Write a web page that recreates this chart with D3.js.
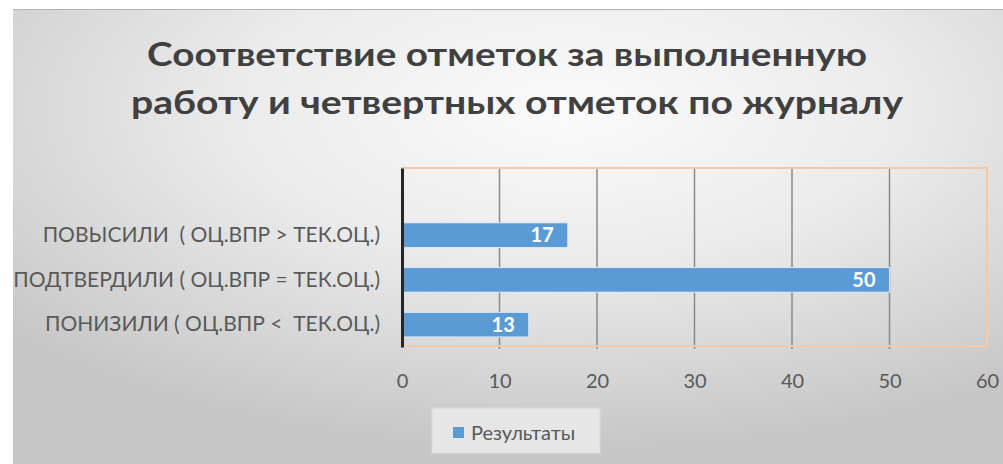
<!DOCTYPE html>
<html>
<head>
<meta charset="utf-8">
<script src="https://cdn.jsdelivr.net/npm/d3@7"></script>
<style>
    html, body { margin: 0; padding: 0; background: #fff; }
    svg { display: block; }
    text { font-family: Lato, "Noto Sans", sans-serif; white-space: pre; }
</style>
</head>
<body>
<svg id="chart"></svg>
<script>
const titleLines = ['Соответствие отметок за выполненную', 'работу и четвертных отметок по журналу'];
const categories = ['', 'ПОВЫСИЛИ  ( ОЦ.ВПР > ТЕК.ОЦ.)', 'ПОДТВЕРДИЛИ ( ОЦ.ВПР = ТЕК.ОЦ.)', 'ПОНИЗИЛИ ( ОЦ.ВПР <  ТЕК.ОЦ.)'];
const values = [null, 17, 50, 13];
const xTicks = [0, 10, 20, 30, 40, 50, 60];
const seriesName = 'Результаты';

(function () {
    const width = 1003, height = 464;
    const barColor = '#5b9bd5';

    const svg = d3.select('#chart')
        .attr('width', width)
        .attr('height', height);

    const defs = svg.append('defs');
    const grad = defs.append('radialGradient')
        .attr('id', 'bg')
        .attr('cx', '0.56').attr('cy', '0.22').attr('r', '0.75');
    grad.append('stop').attr('offset', '0').attr('stop-color', '#fbfbfb');
    grad.append('stop').attr('offset', '0.45').attr('stop-color', '#ebebeb');
    grad.append('stop').attr('offset', '1').attr('stop-color', '#c6c6c6');

    // chart area background
    svg.append('rect')
        .attr('x', 13).attr('y', 9)
        .attr('width', width - 13).attr('height', height - 9)
        .attr('fill', 'url(#bg)');
    svg.append('line')
        .attr('x1', 13).attr('x2', width)
        .attr('y1', 9.5).attr('y2', 9.5)
        .attr('stroke', '#b5b5b5').attr('stroke-width', 1);

    // title, stretched to the widths seen in the picture
    const titleSpan = [[147, 867], [131, 903]];
    svg.append('g').selectAll('text')
        .data(titleLines)
        .enter()
        .append('text')
        .attr('x', (d, i) => titleSpan[i][0])
        .attr('y', (d, i) => 66 + i * 48)
        .attr('textLength', (d, i) => titleSpan[i][1] - titleSpan[i][0])
        .attr('lengthAdjust', 'spacingAndGlyphs')
        .style('font-size', '33px')
        .style('font-weight', 'bold')
        .style('fill', '#404040')
        .text(d => d);

    const x = d3.scaleLinear()
        .domain([xTicks[0], xTicks[xTicks.length - 1]])
        .range([402, 987]);

    const y = d3.scaleBand()
        .domain(categories)
        .range([168, 347])
        .paddingInner(0.45)
        .paddingOuter(0.225);

    // gridlines
    svg.append('g')
        .selectAll('line')
        .data(xTicks.slice(1, -1))
        .enter()
        .append('line')
        .attr('x1', d => x(d)).attr('x2', d => x(d))
        .attr('y1', 168).attr('y2', 349)
        .attr('stroke', '#8a8a8a')
        .attr('stroke-width', 1.5);

    // plot area border
    svg.append('rect')
        .attr('x', x(0)).attr('y', 168)
        .attr('width', x(60) - x(0)).attr('height', 178)
        .attr('fill', 'none')
        .attr('stroke', '#f6c9a6')
        .attr('stroke-width', 2);

    // bars
    const rows = categories.map((c, i) => ({ cat: c, val: values[i] })).filter(d => d.val != null);

    svg.append('g')
        .selectAll('rect')
        .data(rows)
        .enter()
        .append('rect')
        .attr('x', x(0))
        .attr('y', d => y(d.cat))
        .attr('width', d => x(d.val) - x(0))
        .attr('height', y.bandwidth())
        .attr('fill', barColor)
        .attr('stroke', '#dbe9f6')
        .attr('stroke-width', 1);

    // data labels
    svg.append('g')
        .selectAll('text')
        .data(rows)
        .enter()
        .append('text')
        .attr('x', d => x(d.val) - 14)
        .attr('y', d => y(d.cat) + y.bandwidth() / 2)
        .attr('dy', '0.36em')
        .attr('text-anchor', 'end')
        .style('font-size', '20px')
        .style('font-weight', 'bold')
        .style('fill', '#ffffff')
        .text(d => d.val);

    // category axis
    const yAxis = svg.append('g')
        .attr('transform', `translate(${x(0)},0)`)
        .call(d3.axisLeft(y).tickSize(0).tickPadding(22));
    yAxis.select('.domain')
        .attr('stroke', '#262626')
        .attr('stroke-width', 3);
    yAxis.selectAll('text')
        .style('font-size', '21px')
        .style('font-family', 'Lato, "Noto Sans", sans-serif')
        .style('fill', '#595959');

    // value axis labels
    const xAxis = svg.append('g')
        .attr('transform', 'translate(0,346)')
        .call(d3.axisBottom(x).tickValues(xTicks).tickSize(0).tickPadding(28));
    xAxis.select('.domain').remove();
    xAxis.selectAll('text')
        .style('font-size', '20px')
        .style('font-family', 'Lato, "Noto Sans", sans-serif')
        .style('fill', '#595959');

    // legend
    const legend = svg.append('g');
    legend.append('rect')
        .attr('x', 432).attr('y', 408)
        .attr('width', 168).attr('height', 45)
        .attr('fill', '#e6e6e6')
        .attr('stroke', '#dadada')
        .attr('stroke-width', 1);
    legend.append('rect')
        .attr('x', 453).attr('y', 427)
        .attr('width', 11).attr('height', 11)
        .attr('fill', barColor);
    legend.append('text')
        .attr('x', 471).attr('y', 433)
        .attr('dy', '0.36em')
        .style('font-size', '20px')
        .style('fill', '#595959')
        .text(seriesName);
})();
</script>
</body>
</html>
